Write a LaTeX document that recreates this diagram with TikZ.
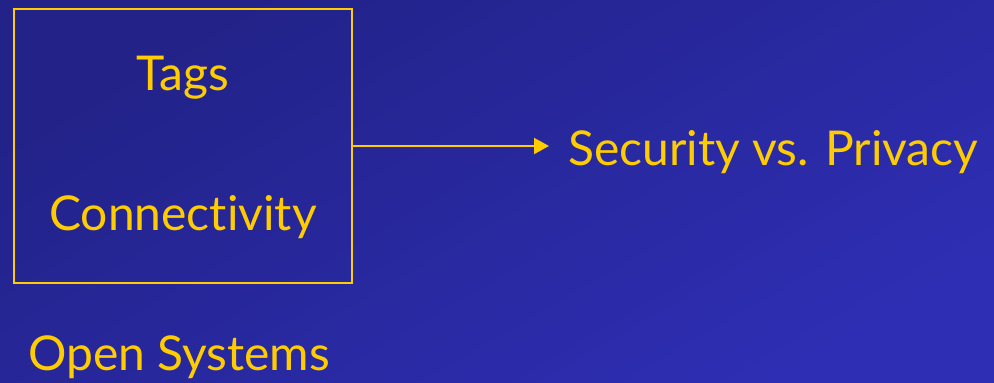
\documentclass[tikz,border=0pt]{standalone}
\usepackage{fontspec}
\setmainfont[RawFeature={-liga;-dlig}]{Lato}
\usetikzlibrary{arrows.meta, positioning}
\definecolor{slidegold}{RGB}{255, 204, 0}
\definecolor{slidedark}{RGB}{34, 34, 136}
\definecolor{slidelight}{RGB}{46, 46, 180}

\tikzset{
  goldtext/.style={text=slidegold, font=\fontsize{48}{54}\selectfont, inner sep=0pt},
  goldline/.style={draw=slidegold, line width=2pt}
}

\begin{document}
\begin{tikzpicture}[x=1pt, y=-1pt]
  % background
  \shade[shading=axis, top color=slidedark, bottom color=slidelight, shading angle=30]
    (0,0) rectangle (994,383);
  \useasboundingbox (0,0) rectangle (994,383);

  \node[goldline, minimum width=338pt, minimum height=274pt, inner sep=0pt] (box) at (183,146) {};
  \node[goldtext, anchor=base] (tags) at (183,90) {Tags};
  \node[goldtext, anchor=base] (conn) at (183,230) {Connectivity};
  \node[goldtext, anchor=base west] (sec) at (568,165) {Security vs. Privacy};
  \node[goldtext, anchor=base west] (open) at (28,370) {Open Systems};

  \draw[goldline, -{Triangle[length=15pt, width=16pt]}] (box.east) -- ([xshift=-19pt]sec.west |- box.east);
\end{tikzpicture}
\end{document}
